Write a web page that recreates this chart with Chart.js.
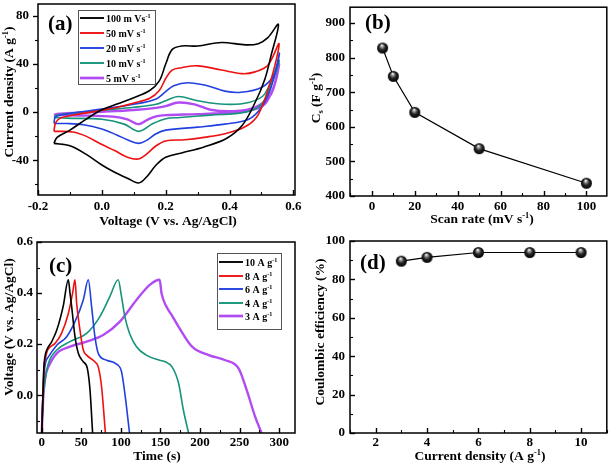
<!DOCTYPE html>
<html>
<head>
<meta charset="utf-8">
<script src="https://cdn.jsdelivr.net/npm/chart.js@4.4.0/dist/chart.umd.min.js"></script>
<style>
  body { margin: 0; background: #fff; }
  #wrap { position: relative; width: 614px; height: 464px; }
  canvas { position: absolute; }
</style>
</head>
<body>
<div id="wrap">
  <canvas id="chartA" width="305" height="232" style="left:0;top:0"></canvas>
  <canvas id="chartB" width="309" height="232" style="left:305px;top:0"></canvas>
  <canvas id="chartC" width="305" height="232" style="left:0;top:232px"></canvas>
  <canvas id="chartD" width="309" height="232" style="left:305px;top:232px"></canvas>
</div>
<script>
// (a) CV loops: [voltage (V), current density (A/g)], anodic sweep then cathodic sweep
const cv100 = [[-0.15,-26],[-0.14,-21],[-0.10,-15],[-0.05,-6],[0,2],[0.05,7],[0.10,12],[0.15,18],[0.18,26],[0.20,40],[0.22,52],[0.25,55],[0.30,55],[0.375,58],[0.45,56],[0.49,57],[0.52,62],[0.553,73],
  [0.53,47],[0.51,27],[0.48,8],[0.44,-11],[0.39,-22],[0.32,-29],[0.25,-34],[0.20,-37.5],[0.17,-44],[0.14,-54],[0.115,-59],[0.08,-55],[0.04,-50],[0,-44],[-0.05,-35],[-0.10,-28],[-0.15,-26]];
const cv50 = [[-0.15,-16],[-0.145,-9],[-0.13,-5],[-0.08,-2],[0,1.5],[0.05,4],[0.10,7.5],[0.15,11.5],[0.18,18],[0.20,28],[0.22,35],[0.25,37],[0.30,38.5],[0.375,35],[0.44,32],[0.48,33.5],[0.52,39],[0.555,57],
  [0.53,27],[0.49,-2],[0.45,-12],[0.385,-18],[0.32,-21],[0.26,-23],[0.20,-24],[0.17,-28],[0.14,-35],[0.115,-39],[0.08,-37.5],[0.04,-32],[0,-27],[-0.05,-20],[-0.09,-16.5],[-0.15,-16]];
const cv20 = [[-0.15,-9.5],[-0.145,-4],[-0.11,-1.5],[0,2.5],[0.10,6.5],[0.17,11],[0.20,17],[0.225,22],[0.27,24.5],[0.33,22],[0.385,17.5],[0.436,16.5],[0.50,20.5],[0.54,31.5],[0.556,49],
  [0.53,20.5],[0.50,4],[0.46,-6],[0.385,-10],[0.30,-12.5],[0.20,-15],[0.17,-18],[0.14,-23.5],[0.115,-26],[0.08,-23],[0.047,-19],[0,-14],[-0.057,-10.5],[-0.11,-9.5],[-0.15,-9.5]];
const cv10 = [[-0.15,-4.5],[-0.14,-2.5],[-0.11,-1.5],[0,1.5],[0.10,4],[0.17,6.5],[0.20,9.5],[0.24,13],[0.30,9.5],[0.385,6.5],[0.46,8],[0.51,15],[0.555,43],
  [0.54,29],[0.50,6.5],[0.45,0],[0.34,-2.5],[0.245,-4.5],[0.20,-5.5],[0.16,-9.5],[0.115,-16],[0.07,-10],[0,-6],[-0.11,-5],[-0.15,-4.5]];
const cv5 = [[-0.15,-2.5],[-0.14,-1.5],[-0.11,-1],[0,0.3],[0.10,1.7],[0.17,3.5],[0.20,5],[0.24,8],[0.29,6.5],[0.34,2],[0.41,0.8],[0.48,4],[0.53,15],[0.555,40],
  [0.54,22],[0.51,6.5],[0.47,1.7],[0.41,-0.3],[0.30,-1.7],[0.20,-2.5],[0.17,-3.5],[0.145,-6],[0.115,-10],[0.08,-6],[0.035,-3.8],[-0.06,-2.8],[-0.15,-2.5]];
const cvLabels = ['100 m Vs^{-1}', '50 mV s^{-1}', '20 mV s^{-1}', '10 mV s^{-1}', '5 mV s^{-1}'];

// (b) specific capacitance vs scan rate
const scanRates = [5, 10, 20, 50, 100];
const capacitance = [828, 746, 642, 537, 437];

// (c) GCD curves: [time (s), voltage (V)]
const gcd10 = [[0,-0.15],[1.5,0],[2.5,0.1],[4,0.15],[6.3,0.177],[12.6,0.21],[19,0.255],[27,0.347],[33.6,0.452],
  [35.7,0.40],[37.8,0.347],[42,0.229],[46.2,0.164],[52.5,0.131],[57.6,0.105],[61,0.02],[64.3,-0.15]];
const gcd8 = [[0,-0.15],[1.5,0],[3,0.111],[5,0.15],[7.5,0.177],[16.8,0.203],[25,0.242],[33.6,0.32],[39,0.40],[42,0.452],
  [44.1,0.36],[48.3,0.255],[52.5,0.177],[56.7,0.157],[67,0.131],[71.4,0.111],[75.6,0.033],[80.5,-0.15]];
const gcd6 = [[0,-0.15],[1.5,0],[3,0.085],[5,0.13],[8.4,0.15],[19,0.196],[31.5,0.229],[42,0.288],[52.5,0.373],[58.8,0.452],
  [63,0.347],[67.2,0.229],[71.4,0.164],[82,0.137],[94.5,0.122],[100.8,0.092],[105,0.007],[111,-0.15]];
const gcd4 = [[0,-0.15],[2,0],[4.2,0.059],[8.4,0.124],[19,0.177],[35.7,0.21],[56.7,0.242],[73.5,0.308],[86,0.386],[96.6,0.452],
  [100.8,0.386],[105,0.308],[111,0.242],[119.7,0.19],[132,0.157],[149,0.137],[156,0.131],[164.7,0.111],[173,0.046],[179,-0.059],[185.7,-0.15]];
const gcd3 = [[0,-0.15],[2,0],[3,0.033],[5,0.08],[8.4,0.111],[19,0.164],[35.7,0.19],[56.7,0.21],[77.7,0.236],[98.7,0.288],[119.7,0.373],[136.5,0.432],[149,0.452],
  [151.3,0.40],[157.5,0.347],[165,0.31],[173,0.268],[190,0.19],[211,0.157],[232,0.137],[248.7,0.105],[259,0.02],[269.7,-0.085],[278,-0.15]];
const gcdLabels = ['10 A g^{-1}', '8 A g^{-1}', '6 A g^{-1}', '4 A g^{-1}', '3 A g^{-1}'];

// (d) coulombic efficiency vs current density
const currentDensity = [3, 4, 6, 8, 10];
const efficiency = [89.5, 91.5, 94, 94, 94];

const SERIF = '"Liberation Serif", "Times New Roman", serif';
const COLORS = ['#000000', '#ee1111', '#2040e0', '#16937a', '#b24cf2'];
const WIDTHS = [1.6, 1.6, 1.6, 1.6, 2.4];

const pts = arr => arr.map(p => ({x: p[0], y: p[1]}));
const onStep = (v, step) => Math.abs(v / step - Math.round(v / step)) < 1e-6;

function parseRich(s) {
  const parts = [];
  const re = /([\^_])\{([^}]*)\}/g;
  let last = 0, m;
  while ((m = re.exec(s))) {
    if (m.index > last) parts.push([s.slice(last, m.index), '']);
    parts.push([m[2], m[1] === '^' ? 'sup' : 'sub']);
    last = re.lastIndex;
  }
  if (last < s.length) parts.push([s.slice(last), '']);
  return parts;
}

// text with super/subscripts, y is the vertical middle
function drawRich(ctx, str, x, y, size, align, vertical) {
  const parts = parseRich(str);
  ctx.save();
  ctx.translate(x, y);
  if (vertical) ctx.rotate(-Math.PI / 2);
  ctx.fillStyle = '#000';
  ctx.textBaseline = 'alphabetic';
  ctx.textAlign = 'left';
  let w = 0;
  parts.forEach(p => {
    ctx.font = 'bold ' + (p[1] ? size * 0.62 : size) + 'px ' + SERIF;
    w += ctx.measureText(p[0]).width;
  });
  let cx = align === 'center' ? -w / 2 : 0;
  parts.forEach(p => {
    const s = p[1] ? size * 0.62 : size;
    ctx.font = 'bold ' + s + 'px ' + SERIF;
    const dy = p[1] === 'sup' ? -size * 0.38 : (p[1] === 'sub' ? size * 0.22 : 0);
    ctx.fillText(p[0], cx, size * 0.35 + dy);
    cx += ctx.measureText(p[0]).width;
  });
  ctx.restore();
}

function drawLegend(ctx, lg) {
  ctx.save();
  ctx.fillStyle = '#fff';
  ctx.strokeStyle = '#555';
  ctx.lineWidth = 1;
  ctx.fillRect(lg.box[0], lg.box[1], lg.box[2], lg.box[3]);
  ctx.strokeRect(lg.box[0] + 0.5, lg.box[1] + 0.5, lg.box[2], lg.box[3]);
  lg.labels.forEach((t, i) => {
    const y = lg.rows[i];
    ctx.strokeStyle = COLORS[i];
    ctx.lineWidth = WIDTHS[i] + 0.3;
    ctx.beginPath();
    ctx.moveTo(lg.line[0], y);
    ctx.lineTo(lg.line[1], y);
    ctx.stroke();
    drawRich(ctx, t, lg.textX, y, lg.size, 'left', false);
  });
  ctx.restore();
}

function sphere(r) {
  const c = document.createElement('canvas');
  c.width = c.height = 2 * r + 2;
  const g = c.getContext('2d');
  const o = r + 1;
  const grad = g.createRadialGradient(o - r * 0.15, o - r * 0.5, r * 0.05, o, o, r);
  grad.addColorStop(0, '#ffffff');
  grad.addColorStop(0.2, '#a0a0a0');
  grad.addColorStop(0.55, '#262626');
  grad.addColorStop(1, '#000000');
  g.fillStyle = grad;
  g.beginPath();
  g.arc(o, o, r, 0, 2 * Math.PI);
  g.fill();
  return c;
}
const ball = sphere(5.5);

function scaleOpts(s, horizontal, size) {
  return {
    type: 'linear',
    min: s.min,
    max: s.max,
    afterFit: sc => {
      if (horizontal) sc.height = size; else sc.width = size;
      // keep the plot box where it is, labels may overhang
      sc.paddingTop = sc.paddingBottom = sc.paddingLeft = sc.paddingRight = 0;
    },
    border: {display: false},
    grid: {display: false, drawTicks: false, tickLength: 0},
    ticks: {
      stepSize: s.step,
      maxTicksLimit: 1000,
      includeBounds: false,
      autoSkip: false,
      maxRotation: 0,
      padding: s.pad,
      color: '#000',
      font: {family: SERIF, weight: 'bold', size: 13},
      callback: v => onStep(v, s.label) ? (Math.round(v * 1000) / 1000 + 0).toFixed(s.digits) : ''
    }
  };
}

// frame + tick marks (dir 1 = into the plot, -1 = outwards)
function drawFrame(chart, p) {
  const ctx = chart.ctx, a = chart.chartArea;
  ctx.save();
  ctx.strokeStyle = '#000';
  ['x', 'y'].forEach(k => {
    const sc = chart.scales[k], dir = p[k].dir;
    sc.ticks.forEach(t => {
      const major = onStep(t.value, p[k].label);
      const len = (major ? 5 : 3) * dir;
      const px = Math.round(sc.getPixelForValue(t.value)) + 0.5;
      ctx.lineWidth = major ? 1.4 : 1.1;
      ctx.beginPath();
      if (k === 'x') { ctx.moveTo(px, a.bottom); ctx.lineTo(px, a.bottom - len); }
      else { ctx.moveTo(a.left, px); ctx.lineTo(a.left + len, px); }
      ctx.stroke();
    });
  });
  ctx.lineWidth = 1.5;
  ctx.strokeRect(a.left, a.top, a.right - a.left, a.bottom - a.top);
  ctx.restore();
}

function decor(p) {
  return {
    id: 'decor',
    afterDraw(chart) {
      const ctx = chart.ctx;
      drawFrame(chart, p);
      drawRich(ctx, p.xTitle[0], p.xTitle[1], p.xTitle[2], 13.5, 'center', false);
      drawRich(ctx, p.yTitle[0], p.yTitle[1], p.yTitle[2], 13.5, 'center', true);
      drawRich(ctx, p.tag[0], p.tag[1], p.tag[2], 21, 'left', false);
      if (p.legend) drawLegend(ctx, p.legend);
    }
  };
}

function makePanel(id, p) {
  const canvas = document.getElementById(id);
  new Chart(canvas, {
    type: 'scatter',
    data: {datasets: p.datasets},
    options: {
      responsive: false,
      animation: false,
      events: [],
      layout: {padding: {top: p.area.top, right: canvas.width - p.area.right, left: 0, bottom: 0}},
      plugins: {legend: {display: false}, tooltip: {enabled: false}},
      scales: {
        x: scaleOpts(p.x, true, canvas.height - p.area.bottom),
        y: scaleOpts(p.y, false, p.area.left)
      }
    },
    plugins: [decor(p)]
  });
}

function curveSets(curves, tension, monotone) {
  return curves.map((c, i) => ({
    data: pts(c),
    showLine: true,
    borderColor: COLORS[i],
    borderWidth: WIDTHS[i],
    pointRadius: 0,
    tension: tension,
    cubicInterpolationMode: monotone ? 'monotone' : 'default'
  }));
}

function markerSet(xs, ys) {
  return [{
    data: xs.map((x, i) => ({x: x, y: ys[i]})),
    showLine: true,
    borderColor: '#000',
    borderWidth: 1.2,
    pointStyle: ball,
    pointRadius: 6,
    tension: 0
  }];
}

makePanel('chartA', {
  area: {left: 38, right: 295, top: 4, bottom: 195},
  x: {min: -0.2, max: 0.605, step: 0.1, label: 0.2, digits: 1, pad: 4, dir: 1},
  y: {min: -69, max: 90, step: 20, label: 40, digits: 0, pad: 9, dir: -1},
  datasets: curveSets([cv100, cv50, cv20, cv10, cv5], 0.35, false),
  xTitle: ['Voltage (V vs. Ag/AgCl)', 168, 220],
  yTitle: ['Current density (A g^{-1})', 8, 92],
  tag: ['(a)', 48, 23],
  legend: {box: [78, 10, 77, 74], rows: [18, 33, 48, 63, 78], line: [80, 104], textX: 106, size: 10, labels: cvLabels}
});

makePanel('chartB', {
  area: {left: 45, right: 306, top: 3, bottom: 196},
  x: {min: -10.2, max: 109.5, step: 10, label: 20, digits: 0, pad: 3, dir: 1},
  y: {min: 400, max: 946, step: 50, label: 100, digits: 0, pad: 5, dir: 1},
  datasets: markerSet(scanRates, capacitance),
  xTitle: ['Scan rate (mV s^{-1})', 177, 218],
  yTitle: ['C_{s} (F g^{-1})', 10, 98],
  tag: ['(b)', 60, 22]
});

makePanel('chartC', {
  area: {left: 37, right: 295, top: 10, bottom: 201},
  x: {min: -6, max: 320, step: 25, label: 50, digits: 0, pad: 2, dir: 1},
  y: {min: -0.148, max: 0.6, step: 0.1, label: 0.2, digits: 1, pad: 4, dir: 1},
  datasets: curveSets([gcd10, gcd8, gcd6, gcd4, gcd3], 0.4, true),
  xTitle: ['Time (s)', 157, 223],
  yTitle: ['Voltage (V vs. Ag/AgCl)', 8, 95],
  tag: ['(c)', 49, 33],
  legend: {box: [217, 21, 64, 76], rows: [30, 44, 57, 71, 84], line: [219, 243], textX: 245, size: 10, labels: gcdLabels}
});

makePanel('chartD', {
  area: {left: 45, right: 306, top: 9, bottom: 201},
  x: {min: 1, max: 11, step: 1, label: 2, digits: 0, pad: 2, dir: 1},
  y: {min: 0, max: 100, step: 10, label: 20, digits: 0, pad: 5, dir: 1},
  datasets: markerSet(currentDensity, efficiency),
  xTitle: ['Current density (A g^{-1})', 175, 223],
  yTitle: ['Coulombic efficiency (%)', 14, 100],
  tag: ['(d)', 55, 30]
});
</script>
</body>
</html>
